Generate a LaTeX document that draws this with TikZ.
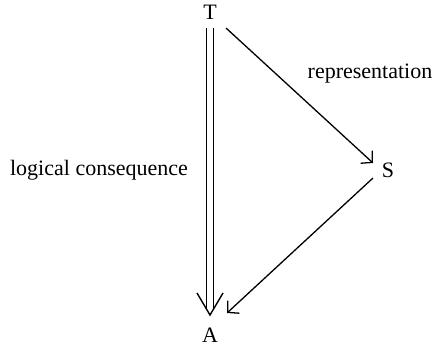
\documentclass[tikz,border=0pt]{standalone}
\usepackage{fontspec}
\setmainfont{Liberation Serif}
\usetikzlibrary{arrows.meta,calc}
\begin{document}
\begin{tikzpicture}[x=1pt,y=-1pt,
  lbl/.style={font=\fontsize{22}{25}\selectfont, inner sep=0pt},
  arr/.style={line width=1.3pt, -{Straight Barb[length=8pt,width=17pt,line width=1.3pt]}},
  dbl/.style={double, double distance=6pt, line width=1.4pt},
  head/.style={line width=1.4pt, line join=miter}]
\useasboundingbox (0,0) rectangle (435,347);
\node[lbl] (T) at (210,12) {T};
\node[lbl] (S) at (388,170) {S};
\node[lbl] (A) at (210,335) {A};
\node[lbl] (rep) at (370,74) {representation};
\node[lbl] (log) at (99,170) {logical consequence};
\draw[arr] ($(T)+(16,16)$) -- ($(S)+(-15,-7)$);
\draw[arr] ($(S)+(-15,8)$) -- ($(A)+(17,-22)$);
\draw[dbl] ($(T)+(0,16)$) -- ($(A)+(0,-26)$);
\draw[head] ($(A)+(-13,-42)$) -- ($(A)+(0,-20)$) -- ($(A)+(13,-42)$);
\end{tikzpicture}
\end{document}
